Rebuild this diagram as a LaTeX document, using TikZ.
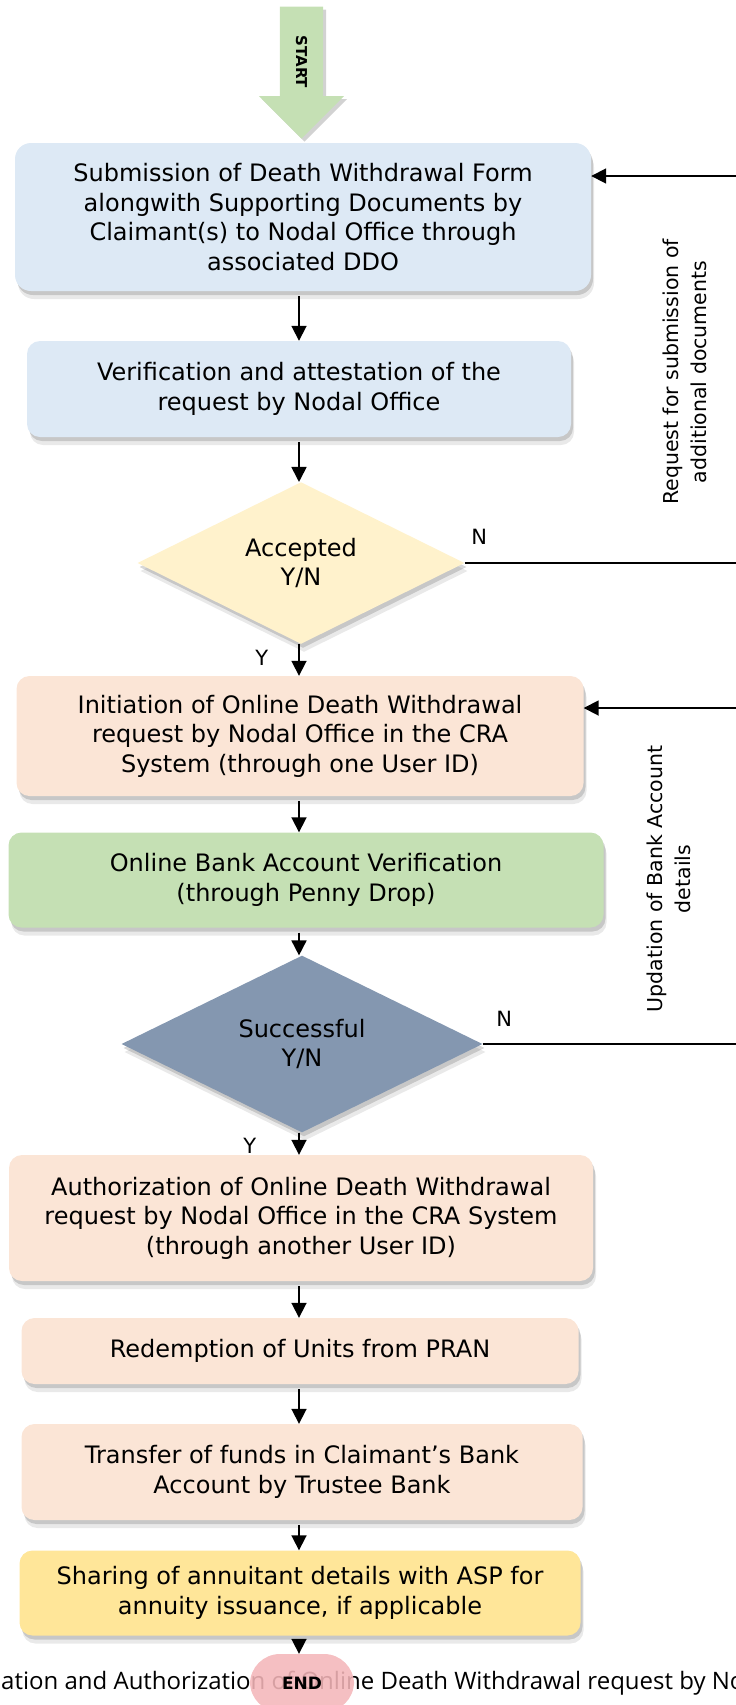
\documentclass[tikz,border=0pt]{standalone}
\usepackage{fontspec}
\setmainfont{DejaVu Sans}
\newfontfamily\capfont{Open Sans}
\usepackage{tikz}
\usetikzlibrary{positioning,shapes.geometric,shapes.arrows,shadows,arrows.meta}
\definecolor{paleblue}{HTML}{DDE9F5}
\definecolor{paleyellow}{HTML}{FFF2CC}
\definecolor{peach}{HTML}{FBE5D6}
\definecolor{palegreen}{HTML}{C5E0B4}
\definecolor{slate}{HTML}{8497B0}
\definecolor{gold}{HTML}{FFE699}
\definecolor{endpink}{HTML}{F4B6B9}

\begin{document}
\begin{tikzpicture}[x=1pt,y=-1pt,
            softshadow/.style={drop shadow={shadow xshift=3pt,shadow yshift=-8pt,opacity=.12,fill=black!70},
                drop shadow={shadow xshift=2pt,shadow yshift=-4pt,opacity=.22,fill=black!70}},
            flowbox/.style={rectangle,rounded corners=13pt,inner sep=0pt,align=center,
                font=\fontsize{24}{29.4}\selectfont,softshadow},
            decide/.style={diamond,inner sep=0pt,align=center,
                font=\fontsize{24}{29.4}\selectfont,softshadow},
            arr/.style={line width=1.8pt,-{Triangle[length=15pt,width=15pt]}},
            yn/.style={inner sep=0pt,font=\fontsize{21}{21}\selectfont},
            sidenote/.style={rotate=90,align=center,font=\fontsize{20.5}{28}\selectfont}]
            \useasboundingbox (0,0) rectangle (736,1705);
            \coordinate (spine) at (299,0);
            % start arrow
            \node[single arrow,rotate=-90,fill=palegreen,anchor=tip,
                single arrow head extend=21pt,single arrow tip angle=90,
                single arrow head indent=0pt,minimum height=132pt,
                inner ysep=16pt,text height=11pt,text depth=0pt,
                font=\bfseries\fontsize{15}{15}\selectfont,
                drop shadow={shadow xshift=3pt,shadow yshift=-3pt,opacity=.25,fill=black!70}]
                (start) at (301.5,139) {START};
            % steps
            \node[flowbox,fill=paleblue,rounded corners=16pt,minimum width=576pt,minimum height=148pt]
                (sub) at (303,217) {Submission of Death Withdrawal Form\\alongwith Supporting Documents by\\Claimant(s) to Nodal Office through\\associated DDO};
            \node[flowbox,fill=paleblue,minimum width=544pt,minimum height=96pt]
                (verify) at (299,389) {Verification and attestation of the\\request by Nodal Office};
            \node[decide,fill=paleyellow,minimum width=327pt,minimum height=156pt]
                (accept) at (301,563) {Accepted\\Y/N};
            \node[flowbox,fill=peach,minimum width=567pt,minimum height=120pt]
                (init) at (300,736) {Initiation of Online Death Withdrawal\\request by Nodal Office in the CRA\\System (through one User ID)};
            \node[flowbox,fill=palegreen,minimum width=595pt,minimum height=95pt]
                (penny) at (306,880) {Online Bank Account Verification\\(through Penny Drop)};
            \node[decide,fill=slate,minimum width=361pt,minimum height=157pt]
                (success) at (302,1044) {Successful\\Y/N};
            \node[flowbox,fill=peach,minimum width=584pt,minimum height=126pt]
                (auth) at (301,1218) {Authorization of Online Death Withdrawal\\request by Nodal Office in the CRA System\\(through another User ID)};
            \node[flowbox,fill=peach,minimum width=557pt,minimum height=66pt]
                (redeem) at (300,1351) {Redemption of Units from PRAN};
            \node[flowbox,fill=peach,minimum width=561pt,minimum height=96pt]
                (transfer) at (302,1472) {Transfer of funds in Claimant’s Bank\\Account by Trustee Bank};
            \node[flowbox,fill=gold,minimum width=561pt,minimum height=85pt]
                (annuity) at (300,1593) {Sharing of annuitant details with ASP for\\annuity issuance, if applicable};
            % caption behind the end mark
            \node[anchor=west,inner sep=0pt,font=\capfont\fontsize{24}{24}\selectfont]
                (caption) at (1,1683) {ation and Authorization of Online Death Withdrawal request by No};
            \node[rectangle,rounded corners=30pt,fill=endpink,fill opacity=.88,text opacity=1,
                minimum width=104pt,minimum height=58pt,inner sep=0pt,
                font=\bfseries\fontsize{17}{17}\selectfont]
                (finish) at (302,1683) {END};
            % loop-back ends at the right edge
            \coordinate (backA) at (736,176);
            \coordinate (noA) at (736,563);
            \coordinate (backB) at (736,708);
            \coordinate (noB) at (736,1045);
            % connectors
            \foreach \a/\b in {sub/verify,verify/accept,init/penny,penny/success,auth/redeem,redeem/transfer,transfer/annuity,annuity/finish}
                \draw[arr] ([yshift=-5pt]\a.south -| spine) -- (\b.north -| spine);
            \draw[arr] (accept.south -| spine) node[yn,below left=5pt and 30pt] {Y} -- (init.north -| spine);
            \draw[arr] (success.south -| spine) node[yn,below left=5pt and 42pt] {Y} -- (auth.north -| spine);
            \draw[line width=1.5pt] (accept.east) node[yn,above right=18pt and 6pt] {N} -- (accept.east -| noA);
            \draw[line width=1.5pt] (success.east) node[yn,above right=17pt and 13pt] {N} -- (success.east -| noB);
            \draw[arr] (backA) -- (backA -| sub.east);
            \draw[arr] (backB) -- (backB -| init.east);
            \node[sidenote] (askdocs) at (685,372) {Request for submission of\\additional documents};
            \node[sidenote] (askbank) at (669,879) {Updation of Bank Account\\details};
        \end{tikzpicture}
\end{document}
